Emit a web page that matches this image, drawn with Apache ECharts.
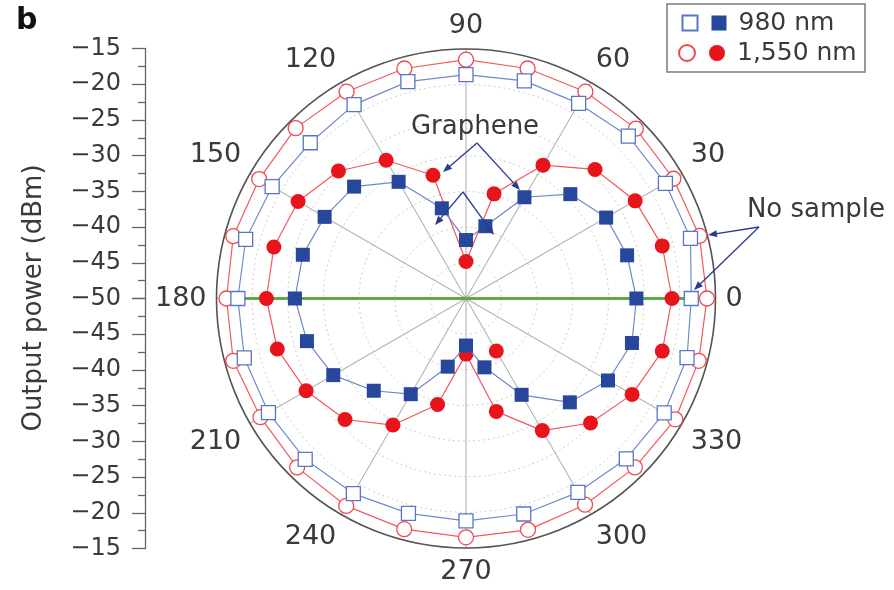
<!DOCTYPE html>
<html>
<head>
<meta charset="utf-8">
<title>Output power vs polarization angle</title>
<script src="https://cdn.jsdelivr.net/npm/echarts@6/dist/echarts.min.js"></script>
<style>
  html, body { margin: 0; padding: 0; background: #fff; }
  #chart { width: 894px; height: 590px; }
</style>
</head>
<body>
<div id="chart"></div>
<script>
// Polarization angle of each measurement (degrees)
const angles = [0, 15, 30, 45, 60, 75, 90, 105, 120, 135, 150, 165,
                180, 195, 210, 225, 240, 255, 270, 285, 300, 315, 330, 345];

// Output power (dBm) without a sample in the beam path
const noSample980  = [-18.4, -17.4, -17.7, -17.8, -18.4, -18.4, -18.6, -18.5, -18.6, -19.1, -18.6, -18.0,
                      -18.0, -17.8, -18.0, -18.1, -18.4, -18.8, -18.8, -18.7, -18.6, -18.2, -17.9, -17.9];
const noSample1550 = [-16.2, -16.1, -16.4, -16.3, -16.5, -16.6, -16.5, -16.6, -16.5, -16.2, -16.5, -16.2,
                      -16.4, -16.2, -16.7, -16.5, -16.4, -16.5, -16.5, -16.4, -16.6, -16.5, -16.1, -16.2];

// Output power (dBm) through the graphene polarizer
const graphene980  = [-26.1, -26.6, -27.3, -29.3, -33.6, -39.5, -41.8, -36.9, -31.1, -27.8, -27.1, -26.3,
                      -26.0, -26.9, -28.5, -31.7, -34.5, -40.1, -43.4, -40.0, -34.4, -29.4, -27.0, -25.9];
const graphene1550 = [-21.1, -21.5, -22.6, -24.4, -28.4, -34.8, -44.8, -32.1, -27.6, -24.7, -22.8, -22.1,
                      -22.0, -22.6, -24.1, -26.0, -29.5, -34.6, -42.2, -33.6, -28.6, -25.3, -23.1, -21.5];
// additional single 1,550 nm reading: [power dBm, angle]
const extra1550 = [[-41.5, 300]];

// Horizontal reference line through the centre: [power dBm, angle]
const referenceLine = [[-18.0, 180], [-18.4, 0]];

// Axis ticks
const powerTicks = [-50, -45, -40, -35, -30, -25, -20, -15];
const angleTicks = [0, 30, 60, 90, 120, 150, 180, 210, 240, 270, 300, 330];

const FONT = '"DejaVu Sans", sans-serif';
const TEXT = '#3a3a3a';
const NAVY = '#2b3a8e';

// closed loop: append the first reading again at 360 degrees (no marker)
function loop(values) {
  const d = values.map((v, i) => [v, angles[i]]);
  d.push({ value: [values[0], 360], symbol: 'none' });
  return d;
}

const minus = v => String(v).replace('-', '\u2212');

const chart = echarts.init(document.getElementById('chart'), null, { renderer: 'canvas' });

const powerAxisCommon = {
  type: 'value',
  min: powerTicks[0],
  max: powerTicks[powerTicks.length - 1],
  interval: powerTicks[1] - powerTicks[0],
  axisLine: { show: true, lineStyle: { color: '#666', width: 1.3 } },
  axisTick: { show: true, length: 13, lineStyle: { color: '#666', width: 1.3 } },
  minorTick: { show: true, splitNumber: 2, length: 7, lineStyle: { color: '#666', width: 1.3 } },
  axisLabel: { fontFamily: FONT, fontSize: 24, color: TEXT, margin: 24, formatter: minus },
  splitLine: { show: false }
};

const openRed   = { color: '#fff', borderColor: '#ee4a4f', borderWidth: 1.3 };
const openBlue  = { color: '#fff', borderColor: '#5877c2', borderWidth: 1.3 };
const fillRed   = { color: '#e8141c', opacity: 1 };
const fillBlue  = { color: '#27479c' };

const legendText = { fontFamily: FONT, fontSize: 25, color: TEXT, lineHeight: 26, padding: [0, 0, 0, 7] };

chart.setOption({
  animation: false,
  backgroundColor: '#fff',
  polar: { center: [466, 298.5], radius: 249.5 },
  angleAxis: {
    type: 'value',
    min: 0,
    max: 360,
    interval: angleTicks[1] - angleTicks[0],
    startAngle: 0,
    clockwise: false,
    axisLine: { show: true, lineStyle: { color: '#555', width: 1.6 } },
    axisTick: { show: false },
    axisLabel: { fontFamily: FONT, fontSize: 27, color: TEXT, margin: 10 },
    splitLine: { show: true, lineStyle: { color: '#b4b4b4', width: 1.1 } }
  },
  radiusAxis: {
    type: 'value',
    min: powerTicks[0],
    max: powerTicks[powerTicks.length - 1],
    interval: powerTicks[1] - powerTicks[0],
    axisLine: { show: false },
    axisTick: { show: false },
    axisLabel: { show: false },
    splitLine: { show: true, lineStyle: { color: '#cccccc', width: 1, type: [2, 3] } }
  },
  grid: [
    { left: 145, top: 48.5, width: 10, height: 250 },
    { left: 145, top: 298.5, width: 10, height: 250 }
  ],
  xAxis: [
    { gridIndex: 0, show: false, type: 'value' },
    { gridIndex: 1, show: false, type: 'value' }
  ],
  yAxis: [
    Object.assign({ gridIndex: 0 }, powerAxisCommon),
    Object.assign({ gridIndex: 1, inverse: true }, powerAxisCommon, {
      axisLabel: Object.assign({}, powerAxisCommon.axisLabel, { showMinLabel: false })
    })
  ],
  legend: [
    {
      left: 681.5, top: 10, padding: 0, itemGap: 2, itemWidth: 15, itemHeight: 15,
      selectedMode: false,
      data: [{ name: '980 nm, no sample', icon: 'rect' }, { name: '980 nm', icon: 'rect' }],
      formatter: n => (n.indexOf('no sample') >= 0 ? '' : n),
      textStyle: legendText
    },
    {
      left: 678, top: 40, padding: 0, itemGap: 2, itemWidth: 16, itemHeight: 16,
      selectedMode: false,
      data: [{ name: '1,550 nm, no sample', icon: 'circle' }, { name: '1,550 nm', icon: 'circle' }],
      formatter: n => (n.indexOf('no sample') >= 0 ? '' : n),
      textStyle: legendText
    }
  ],
  series: [
    {
      name: 'reference', type: 'line', coordinateSystem: 'polar',
      data: referenceLine, symbol: 'none', z: 1,
      lineStyle: { color: '#5dab45', width: 3 }
    },
    {
      name: '1,550 nm, no sample', type: 'line', coordinateSystem: 'polar',
      data: loop(noSample1550), symbol: 'circle', symbolSize: 15, z: 2,
      itemStyle: openRed, lineStyle: { color: '#f05a5e', width: 1.2 }
    },
    {
      name: '980 nm, no sample', type: 'line', coordinateSystem: 'polar',
      data: loop(noSample980), symbol: 'rect', symbolSize: 14, z: 3,
      itemStyle: openBlue, lineStyle: { color: '#6f8bcb', width: 1.2 }
    },
    {
      name: '1,550 nm', type: 'line', coordinateSystem: 'polar',
      data: loop(graphene1550), symbol: 'circle', symbolSize: 15, z: 4,
      itemStyle: fillRed, lineStyle: { color: '#f0585d', width: 1.2 }
    },
    {
      name: '1,550 nm extra', type: 'scatter', coordinateSystem: 'polar',
      data: extra1550, symbol: 'circle', symbolSize: 15, z: 4,
      itemStyle: fillRed
    },
    {
      name: '980 nm', type: 'line', coordinateSystem: 'polar',
      data: loop(graphene980), symbol: 'rect', symbolSize: 14, z: 5,
      itemStyle: fillBlue, lineStyle: { color: '#6d87c8', width: 1.2 }
    }
  ]
});

// annotation arrows: straight shaft from a to b with a small filled head at b
function arrow(ax, ay, bx, by) {
  const ang = Math.atan2(by - ay, bx - ax);
  const L = 9, W = 3.5;
  const baseX = bx - L * Math.cos(ang), baseY = by - L * Math.sin(ang);
  const px = -Math.sin(ang) * W, py = Math.cos(ang) * W;
  return [
    { type: 'line', shape: { x1: ax, y1: ay, x2: baseX, y2: baseY },
      style: { stroke: NAVY, lineWidth: 1.3 }, z: 20 },
    { type: 'polygon', shape: { points: [[bx, by], [baseX + px, baseY + py], [baseX - px, baseY - py]] },
      style: { fill: NAVY }, z: 20 }
  ];
}

const graphics = [
  { type: 'text', left: 16, top: 6,
    style: { text: 'b', font: 'bold 30px "DejaVu Sans", sans-serif', fill: '#111' } },
  { type: 'text', x: 34, y: 298, rotation: Math.PI / 2, origin: [0, 0],
    style: { text: 'Output power (dBm)', font: '26px "DejaVu Sans", sans-serif', fill: TEXT,
             align: 'center', verticalAlign: 'middle' } },
  { type: 'rect', shape: { x: 667, y: 4, width: 198, height: 68 },
    style: { fill: 'none', stroke: '#7a7a7a', lineWidth: 1.5 }, z: 10 },
  { type: 'text', x: 475, y: 127,
    style: { text: 'Graphene', font: '26px "DejaVu Sans", sans-serif', fill: TEXT,
             align: 'center', verticalAlign: 'middle' }, z: 20 },
  { type: 'text', x: 816, y: 210,
    style: { text: 'No sample', font: '26px "DejaVu Sans", sans-serif', fill: TEXT,
             align: 'center', verticalAlign: 'middle' }, z: 20 }
]
  .concat(arrow(477, 143, 443, 172))
  .concat(arrow(477, 143, 520, 190))
  .concat(arrow(463, 192, 435, 225))
  .concat(arrow(463, 192, 494, 235))
  .concat(arrow(759, 227, 708, 235))
  .concat(arrow(759, 227, 694, 290));

chart.setOption({ graphic: graphics });
</script>
</body>
</html>
